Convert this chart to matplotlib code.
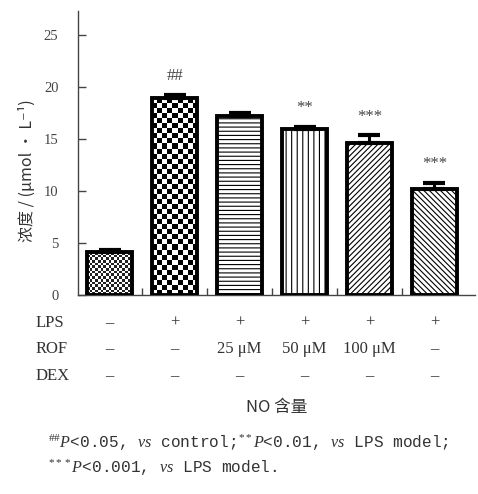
import matplotlib
matplotlib.use("Agg")
import matplotlib.pyplot as plt
import numpy as np

# data
groups = ["control", "LPS", "ROF 25", "ROF 50", "ROF 100", "DEX"]
means = [4.1, 18.9, 17.2, 15.9, 14.6, 10.2]
errs = [0.25, 0.35, 0.3, 0.25, 0.75, 0.6]
marks = ["", "##", "", "**", "***", "***"]
row_names = ["LPS", "ROF", "DEX"]
row_lps = ["–", "+", "+", "+", "+", "+"]
row_rof = ["–", "–", "25 μM", "50 μM", "100 μM", "–"]
row_dex = ["–", "–", "–", "–", "–", "–"]

plt.rcParams["mathtext.fontset"] = "custom"
plt.rcParams["mathtext.rm"] = "Liberation Serif"
plt.rcParams["mathtext.it"] = "Liberation Serif:italic"
plt.rcParams["hatch.linewidth"] = 0.8

serif = ["Liberation Serif", "DejaVu Serif"]
cjk = ["Noto Sans CJK SC", "DejaVu Sans"]
txt = "#333333"

fig = plt.figure(figsize=(4.78, 4.94), dpi=100)
ax = fig.add_axes([0.163, 0.403, 0.83, 0.575])

x = np.arange(len(means))
w = 0.7
bars = ax.bar(x, means, width=w, color="white", edgecolor="black", linewidth=2.8, zorder=3)
hatches = [None, None, "----", "|||", "//////", "\\\\\\\\\\\\"]
for b, h in zip(bars, hatches):
    if h:
        b.set_hatch(h)
    else:
        b.set_facecolor("none")

# checkerboard fills for the first two bars
def checker(bar, n_x, color):
    x0 = bar.get_x()
    x1 = x0 + bar.get_width()
    h = bar.get_height()
    n_y = int(round(n_x * h / bar.get_width() * (10.4 / 65.2)))
    grid = (np.add.outer(np.arange(n_y), np.arange(n_x)) % 2).astype(float)
    im = ax.imshow(grid, extent=(x0, x1, 0, h),
                   cmap=matplotlib.colors.ListedColormap(["white", color]),
                   interpolation="nearest", aspect="auto", zorder=2)
    im.set_clip_path(bar)

checker(bars[0], 17, "#222222")
checker(bars[1], 9, "black")
ax.set_xlim(-0.49, 5.62)
ax.set_ylim(0, 27.3)

ax.errorbar(x, means, yerr=[np.zeros(len(errs)), errs], fmt="none", ecolor="black",
            elinewidth=2.2, capsize=8, capthick=3, zorder=4)

for xi, m, e, s in zip(x, means, errs, marks):
    if s:
        ax.text(xi, m + e + 1.0, s, ha="center", va="bottom", fontsize=12, color="#444444",
                family=serif)

for s in ["top", "right"]:
    ax.spines[s].set_visible(False)
for s in ["left", "bottom"]:
    ax.spines[s].set_color("#444444")
    ax.spines[s].set_linewidth(1.0)

ax.set_yticks([0, 5, 10, 15, 20, 25])
ax.tick_params(axis="y", direction="in", length=6, width=1, colors="#444444",
               labelsize=10.5, pad=14)
for lab in ax.get_yticklabels():
    lab.set_family(serif)
ax.set_xticks([])
ax.set_xticks(x[:-1] + 0.5, minor=True)
ax.tick_params(axis="x", which="minor", direction="in", length=5, width=1, colors="#444444")
ax.set_ylabel("浓度 / (μmol • L⁻¹)", family=cjk, fontsize=11.5, color=txt)
ax.yaxis.set_label_coords(-0.105, 0.437)

# treatment table below the axis
rows = [row_lps, row_rof, row_dex]
row_y = [-2.7, -5.2, -7.8]
for name, vals, yy in zip(row_names, rows, row_y):
    ax.text(-1.15, yy, name, ha="left", va="center", fontsize=12, color=txt,
            family=serif, clip_on=False)
    for xi, v in zip(x, vals):
        ax.text(xi, yy, v, ha="center", va="center", fontsize=12, color=txt,
                family=serif, clip_on=False)

fig.text(0.578, 0.176, "NO 含量", ha="center", va="center", fontsize=12, color=txt, family=cjk)

fig.text(0.10, 0.103, r"$^{\#\#}\mathit{P}$<0.05, $\mathit{vs}$ control;$^{**}\mathit{P}$<0.01, $\mathit{vs}$ LPS model;",
         ha="left", va="center", fontsize=11.6, color=txt, family=["Liberation Mono"])
fig.text(0.10, 0.053, r"$^{***}\mathit{P}$<0.001, $\mathit{vs}$ LPS model.",
         ha="left", va="center", fontsize=11.6, color=txt, family=["Liberation Mono"])

fig.savefig("out.png", dpi=100)
